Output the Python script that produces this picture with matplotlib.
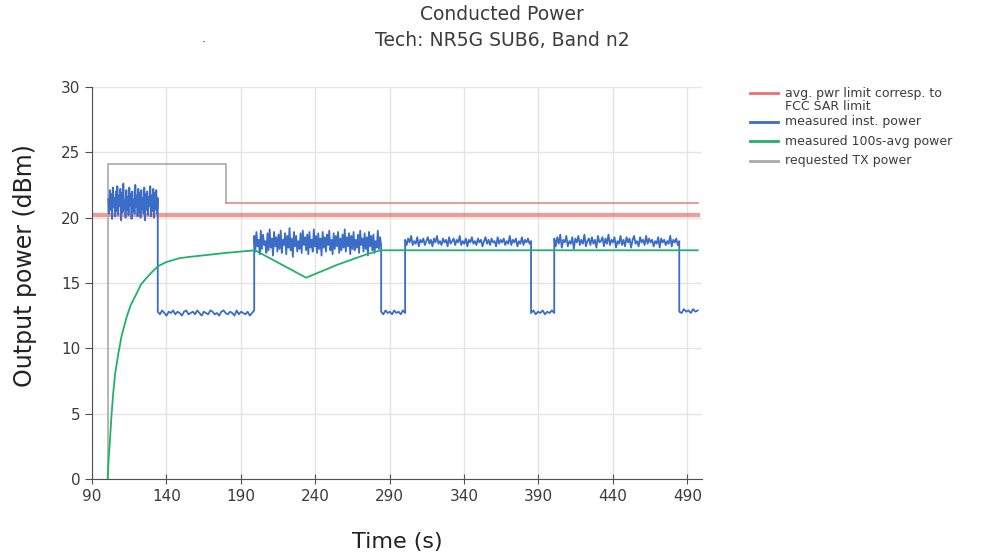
import numpy as np
import matplotlib
matplotlib.use('Agg')
import matplotlib.pyplot as plt
from matplotlib.lines import Line2D

plt.rcParams['font.family'] = ['DejaVu Sans']

# ---- data -----------------------------------------------------------------
# inst. power, per segment: (t_start, t_end, values)
seg_a = [21.4, 20.3, 22.1, 20.6, 21.8, 19.9, 22.3, 20.8, 21.5, 20.1, 22.0, 20.5, 22.4, 20.2,
         21.7, 20.9, 22.2, 19.8, 21.9, 20.4, 22.6, 20.7, 21.3, 20.0, 22.1, 20.6, 21.6, 20.2,
         22.3, 20.9, 21.8, 19.9, 22.0, 20.5, 21.4, 20.3, 22.5, 20.8, 21.7, 20.1, 22.2, 20.4,
         21.9, 20.0, 22.1, 20.7, 21.5, 20.3, 22.3, 19.8, 21.8, 20.6, 22.0, 20.2, 21.6, 20.9,
         22.4, 20.1, 21.7, 20.5, 22.2, 20.0, 21.9, 20.6, 22.1, 20.3, 21.5]
seg_b = [12.8, 12.6, 12.9, 12.7, 12.5, 12.8, 12.7, 12.9, 12.6, 12.8, 12.7, 12.5, 12.8, 12.9,
         12.6, 12.7, 12.8, 12.6, 12.9, 12.7, 12.5, 12.8, 12.7, 12.6, 12.9, 12.8, 12.6, 12.7,
         12.5, 12.8, 12.9, 12.7, 12.6, 12.8, 12.7, 12.5, 12.9, 12.6, 12.8, 12.7, 12.6, 12.8,
         12.5, 12.7, 12.9]
seg_c = [18.6, 17.4, 18.9, 17.8, 18.3, 17.2, 19.0, 17.6, 18.7, 17.9, 18.2, 17.3, 18.8, 17.5,
         19.1, 17.7, 18.4, 17.1, 18.9, 17.8, 18.5, 17.4, 18.7, 17.6, 19.0, 17.3, 18.3, 17.9,
         18.8, 17.2, 18.6, 17.7, 19.2, 17.5, 18.4, 17.0, 18.9, 17.8, 18.6, 17.4, 18.2, 17.6,
         18.8, 17.3, 19.0, 17.9, 18.5, 17.5, 18.7, 17.2, 18.9, 17.7, 18.3, 17.4, 19.1, 17.8,
         18.6, 17.3, 18.8, 17.6, 18.4, 17.1, 18.9, 17.7, 18.5, 17.4, 18.7, 17.9, 19.0, 17.5,
         18.3, 17.2, 18.8, 17.6, 18.6, 17.8, 18.9, 17.3, 18.4, 17.5, 18.7, 17.7, 19.1, 17.4,
         18.5, 17.8, 18.8, 17.2, 18.6, 17.6, 18.9, 17.5, 18.3, 17.7, 18.7, 17.3, 19.0, 17.9,
         18.4, 17.4, 18.8, 17.6, 18.5, 17.1, 18.9, 17.8, 18.6, 17.5, 18.7, 17.3, 18.2, 17.7,
         19.0, 17.6, 18.5, 17.9]
seg_d = [12.8, 12.6, 12.9, 12.7, 12.8, 12.6, 12.9, 12.7, 12.8, 12.6, 12.9, 12.7]
seg_e = [18.3, 17.9, 18.4, 18.1, 18.6, 17.9, 18.2, 18.0, 18.5, 17.8, 18.3, 18.1, 18.4, 17.9,
         18.2, 18.5, 18.0, 18.3, 17.8, 18.4, 18.1, 18.6, 18.0, 18.2, 17.9, 18.4, 18.1, 18.3,
         17.8, 18.5, 18.0, 18.2, 18.4, 17.9, 18.3, 18.1, 18.6, 17.9, 18.2, 18.0, 18.4, 17.8,
         18.3, 18.1, 18.5, 18.0, 18.2, 17.9, 18.4, 18.1, 18.3, 17.8, 18.2, 18.5, 18.0, 18.3,
         17.9, 18.4, 18.1, 18.2, 17.8, 18.5, 18.0, 18.3, 18.1, 18.4, 17.9, 18.2, 18.0, 18.6,
         17.9, 18.3, 18.1, 18.4, 17.8, 18.2, 18.0, 18.5, 17.9, 18.3, 18.1, 18.4, 18.0, 18.2]
seg_f = [12.7, 12.9, 12.6, 12.8, 12.7, 12.9, 12.6, 12.8, 12.7, 12.9, 12.7]
seg_g = [18.4, 17.8, 18.5, 18.0, 18.7, 17.7, 18.3, 18.1, 18.6, 17.8, 18.2, 18.0, 18.5, 17.6,
         18.4, 18.1, 18.6, 17.9, 18.3, 18.0, 18.7, 17.8, 18.2, 18.4, 17.9, 18.5, 18.0, 18.3,
         17.7, 18.6, 18.1, 18.2, 18.5, 17.8, 18.4, 18.0, 18.7, 17.9, 18.3, 18.1, 18.5, 17.7,
         18.2, 18.0, 18.6, 17.9, 18.3, 17.8, 18.5, 18.1, 18.4, 17.7, 18.3, 18.6, 18.0, 18.2,
         17.8, 18.5, 18.1, 18.3, 17.9, 18.6, 18.0, 18.4, 18.1, 18.3, 17.8, 18.2, 18.0, 18.5,
         17.7, 18.4, 18.1, 18.3, 17.9, 18.2, 18.0, 18.6, 17.8, 18.3, 18.1, 18.4, 17.9, 18.2]
seg_h = [12.8, 12.7, 13.0, 12.8, 12.9, 12.7, 13.0, 12.8, 12.9]

inst_segments = [
    (101.0, 134.2, seg_a),
    (134.2, 199.0, seg_b),
    (199.0, 284.3, seg_c),
    (284.3, 300.4, seg_d),
    (300.4, 385.0, seg_e),
    (385.0, 400.6, seg_f),
    (400.6, 484.6, seg_g),
    (484.6, 497.0, seg_h),
]

# 100s-avg power
avg_t = [100.5, 101.2, 102.1, 103.0, 104.3, 105.5, 107.7, 110.0, 113.3, 116.0, 120.0, 123.0,
         126.8, 130.0, 134.6, 140.0, 149.0, 156.0, 180.0, 199.6, 233.9, 255.0, 274.7, 284.0, 497.0]
avg_p = [0.0, 1.5, 3.0, 4.7, 6.6, 8.0, 9.6, 11.0, 12.4, 13.3, 14.2, 14.9,
         15.4, 15.8, 16.3, 16.6, 16.9, 17.0, 17.3, 17.5, 15.4, 16.4, 17.2, 17.5, 17.5]

# requested TX power
req_t = [101.0, 101.0, 180.0, 180.0, 497.0]
req_p = [0.0, 24.1, 24.1, 21.1, 21.1]

# avg. pwr limit (FCC SAR)
limit_t = [90.0, 497.0]
limit_p = [20.2, 20.2]

x_ticks = [90, 140, 190, 240, 290, 340, 390, 440, 490]
y_ticks = [0, 5, 10, 15, 20, 25, 30]

# ---- plot -------------------------------------------------------------------
fig = plt.figure(figsize=(9.89, 5.57), dpi=100)
ax = fig.add_axes([0.093, 0.140, 0.617, 0.704])

c_red, c_blue, c_green, c_gray = '#f26d6d', '#3a6cc8', '#22b06a', '#a9a9a9'
txt = '#3c3c3c'

inst_t, inst_p = [], []
for t0, t1, vals in inst_segments:
    inst_t.extend(np.linspace(t0, t1, len(vals)))
    inst_p.extend(vals)

ax.plot(limit_t, limit_p, color=c_red, lw=3, alpha=0.7, zorder=2)
# requested power: grey until the back-off step, reddish after it (as in the original)
ax.plot(req_t[:4], req_p[:4], color=c_gray, lw=1.2, zorder=3)
ax.plot(req_t[3:], req_p[3:], color='#e08a8a', lw=1.2, zorder=3)
ax.plot(inst_t, inst_p, color=c_blue, lw=1.3, zorder=4)
ax.plot(avg_t, avg_p, color=c_green, lw=1.3, zorder=5)

ax.set_xlim(90, 500)
ax.set_ylim(0, 30)
ax.set_xticks(x_ticks)
ax.set_yticks(y_ticks)
ax.grid(True, color='#e4e4e4', lw=1)
ax.set_axisbelow(True)
for s in ['top', 'right']:
    ax.spines[s].set_visible(False)
for s in ['left', 'bottom']:
    ax.spines[s].set_color('#505050')
ax.tick_params(axis='x', direction='inout', length=7, colors='#505050', labelsize=11, labelcolor=txt, pad=4)
ax.tick_params(axis='y', direction='out', length=5, colors='#505050', labelsize=11, labelcolor=txt)
ax.set_xlabel('Time (s)', fontsize=16, color='#222222')
ax.set_ylabel('Output power (dBm)', fontsize=17, color='#222222')
ax.xaxis.set_label_coords(0.5, -0.135)
ax.yaxis.set_label_coords(-0.09, 0.545)

fig.text(502 / 989, 1 - 15 / 557, 'Conducted Power', ha='center', va='center', fontsize=13.5, color=txt)
fig.text(502 / 989, 1 - 40 / 557, 'Tech: NR5G SUB6, Band n2', ha='center', va='center', fontsize=13.5, color=txt)
fig.text(204 / 989, 1 - 38 / 557, '.', ha='center', va='center', fontsize=9, color=txt)

# legend, drawn by hand to keep the two-line first label aligned like the original
leg = [(93, c_red, 'avg. pwr limit corresp. to'),
       (122, c_blue, 'measured inst. power'),
       (141, c_green, 'measured 100s-avg power'),
       (161, c_gray, 'requested TX power')]
for y, col, lab in leg:
    yf = 1 - y / 557
    fig.add_artist(Line2D([750 / 989, 778 / 989], [yf, yf], color=col, lw=2, transform=fig.transFigure))
    fig.text(785 / 989, yf, lab, ha='left', va='center', fontsize=9, color=txt)
fig.text(785 / 989, 1 - 106 / 557, 'FCC SAR limit', ha='left', va='center', fontsize=9, color=txt)

fig.savefig('out.png', dpi=100)
